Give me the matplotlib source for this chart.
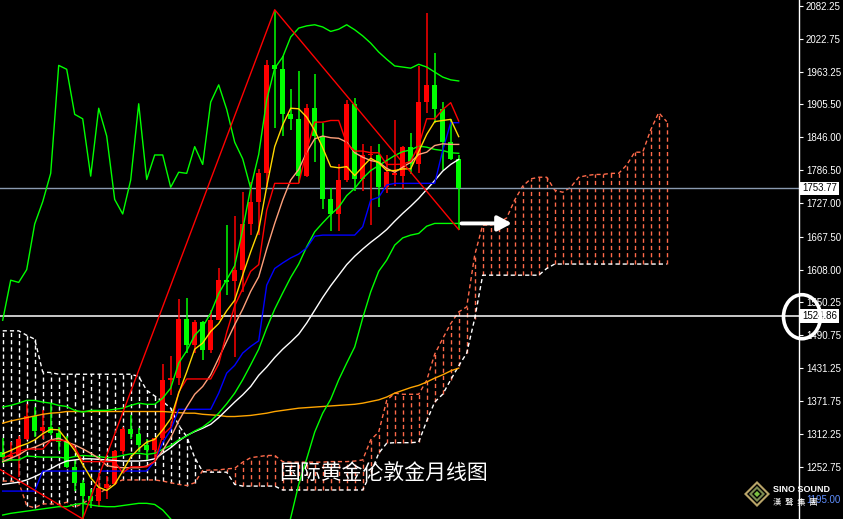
import numpy as np
import matplotlib.pyplot as plt
import matplotlib.transforms as mtransforms
from matplotlib.patches import Ellipse, Polygon

# gold monthly candles, Oct 2017 .. Jul 2022
opens = [1280, 1271, 1275, 1303, 1345, 1318, 1325, 1315, 1299, 1253,
         1224, 1201, 1192, 1215, 1222, 1282, 1321, 1313, 1292, 1283,
         1305, 1409, 1413, 1520, 1472, 1513, 1464, 1517, 1589, 1587,
         1608, 1690, 1730, 1781, 1975, 1968, 1887, 1879, 1776, 1898,
         1848, 1734, 1708, 1769, 1906, 1770, 1814, 1814, 1756, 1778,
         1776, 1829, 1797, 1909, 1940, 1896, 1837, 1807]
highs = [1306, 1299, 1309, 1366, 1362, 1356, 1366, 1326, 1309, 1265,
         1230, 1214, 1243, 1237, 1284, 1326, 1347, 1324, 1303, 1306,
         1439, 1453, 1555, 1557, 1517, 1516, 1535, 1611, 1689, 1704,
         1747, 1765, 1789, 1984, 2075, 1992, 1933, 1965, 1906, 1959,
         1871, 1755, 1798, 1913, 1917, 1833, 1831, 1834, 1814, 1877,
         1831, 1853, 1974, 2070, 1998, 1909, 1879, 1814]
lows = [1261, 1264, 1236, 1302, 1307, 1303, 1310, 1282, 1251, 1211,
        1160, 1180, 1182, 1196, 1221, 1276, 1303, 1280, 1266, 1266,
        1301, 1382, 1400, 1459, 1459, 1445, 1459, 1517, 1563, 1451,
        1568, 1671, 1671, 1757, 1863, 1848, 1859, 1764, 1775, 1802,
        1717, 1677, 1678, 1765, 1750, 1750, 1688, 1721, 1746, 1759,
        1753, 1780, 1781, 1890, 1872, 1787, 1805, 1680]
closes = [1271, 1275, 1303, 1345, 1318, 1325, 1315, 1299, 1253, 1224,
          1201, 1192, 1215, 1222, 1282, 1321, 1313, 1292, 1283, 1305,
          1409, 1413, 1520, 1472, 1513, 1464, 1517, 1589, 1585, 1608,
          1690, 1730, 1781, 1975, 1968, 1887, 1879, 1776, 1898, 1848,
          1734, 1708, 1769, 1906, 1770, 1814, 1814, 1756, 1783, 1781,
          1829, 1797, 1909, 1940, 1896, 1837, 1807, 1754]

# moving averages / bands / ichimoku lines, one value per candle
ma_yellow = [1277, 1283, 1290, 1295, 1302, 1313, 1321, 1320, 1302, 1283,
             1258, 1234, 1217, 1211, 1222, 1246, 1271, 1286, 1298, 1303,
             1320, 1340, 1386, 1424, 1465, 1476, 1497, 1511, 1534, 1553,
             1598, 1640, 1679, 1757, 1829, 1868, 1898, 1897, 1882, 1858,
             1827, 1793, 1791, 1793, 1777, 1793, 1808, 1800, 1786, 1786,
             1789, 1789, 1820, 1851, 1874, 1876, 1878, 1847]
ma_salmon = [1263, 1269, 1275, 1284, 1289, 1295, 1302, 1305, 1298, 1293,
             1286, 1278, 1269, 1256, 1253, 1252, 1252, 1252, 1255, 1263,
             1283, 1306, 1336, 1361, 1384, 1398, 1419, 1449, 1479, 1509,
             1537, 1569, 1595, 1645, 1691, 1733, 1769, 1788, 1819, 1843,
             1848, 1845, 1844, 1837, 1818, 1810, 1804, 1801, 1790, 1783,
             1792, 1801, 1815, 1819, 1831, 1834, 1833, 1833]
bb_mid = [1263, 1266, 1266, 1273, 1272, 1271, 1271, 1271, 1269, 1272,
          1274, 1273, 1272, 1270, 1271, 1274, 1277, 1278, 1276, 1278,
          1285, 1292, 1302, 1309, 1318, 1325, 1336, 1350, 1367, 1386,
          1410, 1437, 1465, 1503, 1537, 1566, 1594, 1618, 1649, 1676,
          1692, 1707, 1720, 1741, 1754, 1772, 1786, 1795, 1804, 1813,
          1820, 1823, 1830, 1828, 1824, 1822, 1818, 1817]
bb_upper = [1361, 1364, 1368, 1373, 1373, 1370, 1368, 1364, 1362, 1355,
            1352, 1355, 1355, 1355, 1357, 1359, 1364, 1368, 1366, 1366,
            1377, 1395, 1440, 1462, 1490, 1505, 1530, 1565, 1590, 1615,
            1680, 1755, 1815, 1913, 1970, 1990, 2026, 2042, 2046, 2048,
            2044, 2036, 2040, 2048, 2039, 2028, 2015, 1999, 1986, 1974,
            1972, 1970, 1977, 1972, 1963, 1954, 1949, 1947]
bb_lower = [1167, 1170, 1172, 1174, 1176, 1178, 1180, 1182, 1182, 1186,
            1188, 1185, 1183, 1182, 1182, 1184, 1186, 1188, 1188, 1186,
            1176, 1160, 1145, 1140, 1135, 1132, 1130, 1120, 1110, 1100,
            1090, 1085, 1080, 1080, 1080, 1110, 1162, 1222, 1268, 1316,
            1350, 1375, 1410, 1440, 1469, 1521, 1568, 1605, 1625, 1652,
            1665, 1670, 1673, 1686, 1691, 1691, 1691, 1691]
ma_white = [1222, 1224, 1226, 1230, 1236, 1243, 1250, 1258, 1264, 1266,
            1268, 1268, 1267, 1266, 1265, 1264, 1264, 1264, 1265, 1268,
            1278, 1288, 1300, 1310, 1317, 1323, 1330, 1342, 1356, 1370,
            1383, 1398, 1418, 1433, 1450, 1465, 1478, 1492, 1512, 1535,
            1558, 1579, 1598, 1617, 1632, 1645, 1657, 1668, 1680, 1695,
            1709, 1722, 1736, 1752, 1768, 1785, 1797, 1806]
ma_orange = [1332, 1336, 1339, 1342, 1345, 1348, 1350, 1351, 1353, 1353,
             1353, 1353, 1353, 1353, 1353, 1353, 1353, 1353, 1353, 1353,
             1353, 1352, 1351, 1350, 1350, 1348, 1347, 1346, 1344, 1344,
             1345, 1346, 1348, 1350, 1353, 1355, 1357, 1359, 1360, 1361,
             1362, 1363, 1364, 1365, 1366, 1368, 1371, 1374, 1379, 1386,
             1391, 1396, 1400, 1406, 1413, 1419, 1426, 1431]
tenkan = [1268.5, 1276, 1281, 1285.5, 1285.5, 1285.5, 1301, 1301, 1301, 1288.5,
          1263, 1263, 1263, 1263, 1263, 1243, 1253.5, 1253.5, 1253.5, 1263.5,
          1310.5, 1324.5, 1388, 1411.5, 1411.5, 1411.5, 1411.5, 1438.5, 1495, 1543,
          1573.5, 1605, 1617, 1714.5, 1763, 1763, 1763, 1763, 1821.5, 1873,
          1873, 1876, 1876, 1834.5, 1821, 1821, 1818, 1818, 1797, 1797,
          1797.5, 1802.5, 1831, 1879, 1879, 1895.5, 1908, 1875]
kijun = [1210, 1210, 1210, 1210, 1210, 1246, 1246, 1246, 1246, 1246,
         1246, 1246, 1246, 1246, 1246, 1246, 1246, 1246, 1246, 1264,
         1297, 1320, 1357, 1357, 1357, 1357, 1357, 1386, 1422, 1436,
         1458, 1470, 1480, 1580, 1610, 1620, 1629, 1636, 1647, 1668,
         1670, 1670, 1670, 1670, 1670, 1685, 1733, 1738, 1760, 1763,
         1763, 1763, 1763, 1763, 1763, 1822, 1872, 1872]

# ichimoku cloud, runs 26 bars past the last candle
span_a = [1228, 1228, 1226, 1184, 1180, 1187, 1187, 1186, 1190, 1181,
          1188, 1196, 1205, 1215, 1225, 1230, 1230, 1230, 1230, 1230,
          1228, 1225, 1222, 1220, 1225, 1247, 1248, 1248, 1250, 1251,
          1262, 1270, 1272, 1274, 1274, 1263, 1262, 1262, 1262, 1262,
          1262, 1263, 1263, 1263, 1264, 1266, 1302, 1316, 1373, 1386,
          1384, 1384, 1384, 1409, 1456, 1484, 1511, 1532, 1541, 1634,
          1688, 1688, 1692, 1701, 1733, 1758, 1771, 1774, 1774, 1751,
          1747, 1756, 1774, 1777, 1779, 1779, 1781, 1781, 1796, 1819,
          1819, 1859, 1890, 1874]
span_b = [1498, 1498, 1498, 1490, 1483, 1424, 1423, 1420, 1420, 1420,
          1420, 1420, 1420, 1420, 1420, 1420, 1420, 1416, 1391, 1381,
          1371, 1359, 1328, 1308, 1270, 1245, 1244, 1244, 1244, 1222,
          1219, 1219, 1219, 1219, 1219, 1212, 1212, 1212, 1212, 1212,
          1212, 1212, 1212, 1212, 1212, 1212, 1242, 1278, 1296, 1297,
          1297, 1297, 1298, 1336, 1370, 1384, 1410, 1435, 1458, 1520,
          1598, 1598, 1598, 1598, 1598, 1598, 1598, 1598, 1610, 1618,
          1618, 1618, 1618, 1618, 1618, 1618, 1618, 1618, 1618, 1618,
          1618, 1618, 1618, 1618]

zigzag_bar = [-15, 10, 34, 57]
zigzag_price = [1375, 1160, 2075, 1680]

ytick_vals = [2082.25, 2022.75, 1963.25, 1905.50, 1846.00, 1786.50, 1727.00,
              1667.50, 1608.00, 1550.25, 1490.75, 1431.25, 1371.75, 1312.25,
              1252.75, 1195.00]
last_price = 1753.77
mark_price = 1524.86
arrow_price = 1691.0
title = '国际黄金伦敦金月线图'

W, H = 843, 519
RED = '#ff0000'
GREEN = '#00ff00'
SALMON = '#ff6a4a'
DASH = (0, (3.0, 2.2))
LW = 1.0


def drawCandles(ax):
    '''
    USAGE: Draw the monthly candles (red = up, green = down).
    '''
    o = np.array(opens, float)
    c = np.array(closes, float)
    idx = np.arange(len(c))
    cols = np.where(c >= o, RED, GREEN)
    ax.vlines(idx, lows, highs, colors=cols, lw=1.1, zorder=4)
    lo = np.minimum(o, c)
    hgt = np.maximum(np.abs(c - o), 2.0)
    ax.bar(idx, hgt, bottom=lo, width=0.66, color=cols, lw=0, zorder=5)


def drawCloud(ax):
    '''
    USAGE: Dashed hatch between the two senkou spans plus the span outlines.
    '''
    a = np.array(span_a, float)
    b = np.array(span_b, float)
    j = np.arange(len(a))
    bull = a >= b
    ax.vlines(j[bull], b[bull], a[bull], colors=SALMON, linestyles=DASH, lw=LW, zorder=1)
    ax.vlines(j[~bull], a[~bull], b[~bull], colors='white', linestyles=DASH, lw=LW, zorder=1)
    ax.plot(j, a, color=SALMON, ls=DASH, lw=LW, zorder=1)
    ax.plot(j, b, color='white', ls=DASH, lw=LW, zorder=1)


def drawLines(ax):
    '''
    USAGE: Moving averages, bollinger bands, ichimoku lines, zigzag.
    '''
    idx = np.arange(len(closes))
    ax.plot(idx, ma_orange, color='#ffa500', lw=LW, zorder=6)
    ax.plot(idx, ma_white, color='white', lw=LW, zorder=6)
    ax.plot(idx, bb_upper, color=GREEN, lw=LW, zorder=6)
    ax.plot(idx, bb_mid, color=GREEN, lw=LW, zorder=6)
    ax.plot(idx, bb_lower, color=GREEN, lw=LW, zorder=6)
    ax.plot(idx, kijun, color='#0000ff', lw=LW, zorder=6)
    ax.plot(idx, ma_salmon, color='#ffa07a', lw=LW, zorder=6)
    ax.plot(idx, tenkan, color=RED, lw=LW, zorder=6)
    ax.plot(idx, ma_yellow, color='#ffd700', lw=LW, zorder=6)
    # chikou span: close drawn 26 bars back
    ax.plot(idx[:-26], closes[26:], color=GREEN, lw=LW, zorder=6)
    ax.plot(zigzag_bar, zigzag_price, color=RED, lw=LW, zorder=6)


fig = plt.figure(figsize=(W / 100, H / 100), dpi=100, facecolor='black')
ax = fig.add_axes([0, 0, 799 / W, 1])
ax.set_facecolor('black')

px = 1.797  # price per pixel
ax.set_xlim(-2.7 / 8, (799 - 2.7) / 8)
ax.set_ylim(2082.25 - (H - 5.7) * px, 2082.25 + 5.7 * px)

drawCloud(ax)
ax.axhline(last_price, color='#8a9ab0', lw=1.0, zorder=2)
ax.axhline(mark_price, color='white', lw=1.1, zorder=2)
drawCandles(ax)
drawLines(ax)

ax.annotate('', xy=(64.0, arrow_price), xytext=(57.0, arrow_price),
            arrowprops=dict(arrowstyle='-|>,head_width=0.32,head_length=0.6',
                            color='white', lw=2.8, mutation_scale=14), zorder=7)

# right price axis
for s in ['top', 'left', 'bottom']:
    ax.spines[s].set_visible(False)
ax.spines['right'].set_color('white')
ax.spines['right'].set_linewidth(1.0)
ax.set_xticks([])
ax.yaxis.tick_right()
ax.set_yticks(ytick_vals)
ax.set_yticklabels(['%.2f' % v for v in ytick_vals])
ax.tick_params(axis='y', colors='white', length=3, width=0.8, pad=2, labelsize=7)
for lab in ax.get_yticklabels():
    lab.set_family('Liberation Sans')
ax.get_yticklabels()[-1].set_color('#5f8fff')

tr = mtransforms.blended_transform_factory(ax.transAxes, ax.transData)
for p in [last_price, mark_price]:
    ax.text(1.004, p, '%.2f' % p, transform=tr, ha='left', va='center', fontsize=7,
            family='Liberation Sans', color='black', clip_on=False, zorder=10,
            bbox=dict(boxstyle='square,pad=0.2', fc='white', ec='none'))

circ = Ellipse((802 / W, 1 - 316.7 / H), 37 / W, 44 / H, transform=fig.transFigure,
               fill=False, ec='white', lw=2.6, zorder=20)
fig.add_artist(circ)

fig.text(279 / W, 1 - 474 / H, title, color='white', fontsize=15,
         family=['Noto Sans CJK SC', 'DejaVu Sans'], ha='left', va='center')

# logo
cx, cy, r = 757 / W, 1 - 494 / H, 13.0
def diamond(rad, col):
    pts = [(cx, cy + rad / H), (cx + rad / W, cy), (cx, cy - rad / H), (cx - rad / W, cy)]
    fig.add_artist(Polygon(pts, closed=True, fc=col, ec='none', transform=fig.transFigure, zorder=21))
diamond(r, '#b8a468')
diamond(r - 3, '#000000')
diamond(r - 5, '#7a8a50')
diamond(r - 8, '#000000')
diamond(r - 10, '#7ac040')
fig.text(773 / W, 1 - 490 / H, 'SINO SOUND', color='white', fontsize=6.5, weight='bold',
         family='Liberation Sans', ha='left', va='center', zorder=22)
fig.text(773 / W, 1 - 503 / H, '漢  聲  集  團', color='white', fontsize=6,
         family=['Noto Sans CJK TC', 'DejaVu Sans'], ha='left', va='center', zorder=22)

fig.savefig('out.png', dpi=100, facecolor='black')
